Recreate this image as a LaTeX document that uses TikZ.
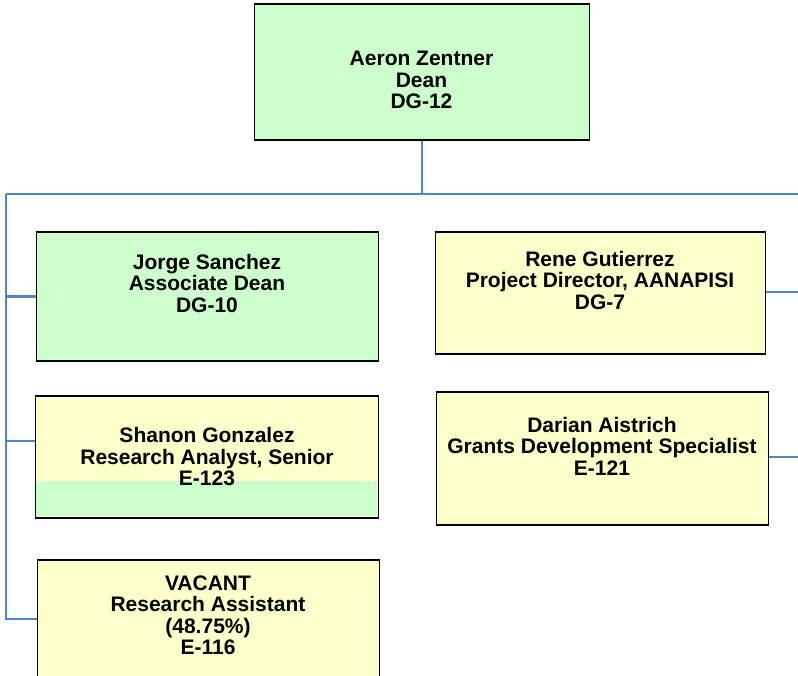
\documentclass[tikz,border=0pt]{standalone}
\usepackage{fontspec}
\setmainfont{Liberation Sans}
\definecolor{lgreen}{HTML}{CCFFCC}
\definecolor{lyellow}{HTML}{FFFFCC}
\definecolor{lineblue}{HTML}{5582CC}
\begin{document}
\begin{tikzpicture}[x=1pt,y=-1pt,
  box/.style={draw=black,line width=1.8pt,rectangle,inner sep=0pt,anchor=north west},
  gbox/.style={box,fill=lgreen},
  ybox/.style={box,fill=lyellow},
  txt/.style={align=center,inner sep=0pt,font=\bfseries\fontsize{21}{21.5}\selectfont},
  conn/.style={draw=lineblue,line width=2.4pt}]
\useasboundingbox (0,0) rectangle (798,676);
\clip (0,0) rectangle (798,676);
% boxes
\node[gbox,minimum width=335pt,minimum height=136pt] (dean) at (253.5,3) {};
\node[gbox,minimum width=342pt,minimum height=129pt] (jorge) at (35.5,231) {};
\node[ybox,minimum width=343pt,minimum height=122pt] (shanon) at (34.5,395) {};
\fill[lgreen] (36,481) rectangle (376.5,516);
\node[box,minimum width=343pt,minimum height=122pt] (shanonb) at (34.5,395) {};
\node[ybox,minimum width=342pt,minimum height=140pt] (vacant) at (36.5,559) {};
\node[ybox,minimum width=330pt,minimum height=122pt] (rene) at (434.5,231) {};
\node[ybox,minimum width=332pt,minimum height=133pt] (darian) at (435.5,391) {};
% texts
\node[txt] (deant) at (421.5,80) {Aeron Zentner\\Dean\\DG-12};
\node[txt] (jorget) at (207,283) {Jorge Sanchez\\Associate Dean\\DG-10};
\node[txt] (shanont) at (207,457) {Shanon Gonzalez\\Research Analyst, Senior\\E-123};
\node[txt] (vacantt) at (208,615.5) {VACANT\\Research Assistant\\(48.75\%)\\E-116};
\node[txt] (renet) at (600,280) {Rene Gutierrez\\Project Director, AANAPISI\\DG-7};
\node[txt] (dariant) at (602,446) {Darian Aistrich\\Grants Development Specialist\\E-121};
% connector coordinates
\coordinate (hl) at (6,194);
\coordinate (hr) at (800,194);
\coordinate (vl) at (6,619);
\coordinate (rr) at (800,292);
\coordinate (dr) at (800,457);
% connectors
\draw[conn] (dean.south) -- (dean.south |- hl);
\draw[conn] (hl) -- (hr);
\draw[conn] (hl) -- (vl) -- (vacant.west |- vl);
\draw[conn] (hl |- jorge.west) -- (jorge.west);
\draw[conn] (6,441) -- (shanon.west |- 0,441);
\draw[conn] (rene.east |- rr) -- (rr);
\draw[conn] (darian.east |- dr) -- (dr);
\end{tikzpicture}
\end{document}
